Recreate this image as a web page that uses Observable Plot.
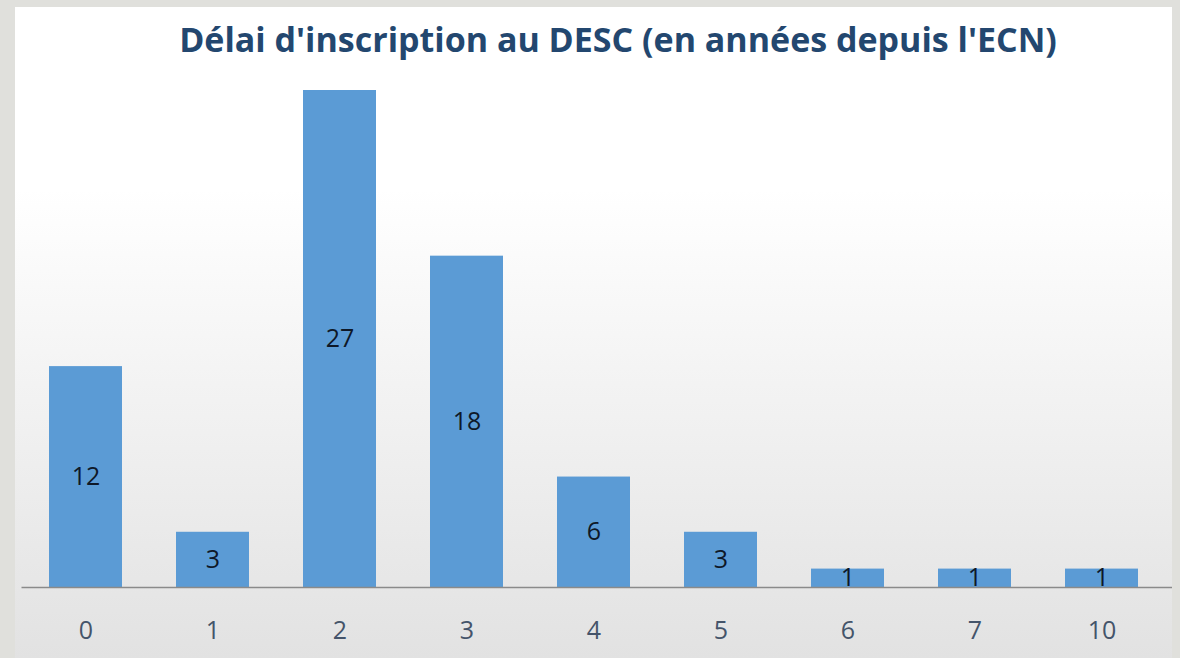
<!DOCTYPE html>
<html>
<head>
<meta charset="utf-8">
<script src="https://cdn.jsdelivr.net/npm/d3@7"></script>
<script src="https://cdn.jsdelivr.net/npm/@observablehq/plot@0.6"></script>
<style>
  html, body { margin: 0; padding: 0; }
  body { width: 1180px; height: 658px; background: #e0e0dc; position: relative; overflow: hidden; }
  #panel { position: absolute; left: 15px; top: 7px; width: 1157px; height: 651px;
    background: linear-gradient(to bottom, #ffffff 0%, #ffffff 28%, #e2e2e2 100%); }
  #title { position: absolute; left: 0; top: 0; width: 1157px; height: 70px; }
  #title span { position: absolute; left: 603px; top: 12px; transform: translateX(-50%) ;
    white-space: nowrap; font-family: "Open Sans", sans-serif; font-weight: 700; font-size: 34px;
    color: #23476f; line-height: 40px; }
  #chart { position: absolute; left: 0; top: 70px; }
</style>
</head>
<body>
<div id="panel">
  <div id="title"><span>Délai d'inscription au DESC (en années depuis l'ECN)</span></div>
  <div id="chart"></div>
</div>
<script>
const categories = ["0", "1", "2", "3", "4", "5", "6", "7", "10"];
const counts = [12, 3, 27, 18, 6, 3, 1, 1, 1];

const data = categories.map((c, i) => ({cat: c, n: counts[i]}));

const chart = Plot.plot({
  width: 1157,
  height: 581,
  marginLeft: 6.5,
  marginRight: 0,
  marginTop: 13,
  marginBottom: 71,
  style: {background: "transparent", fontFamily: "Open Sans, sans-serif", overflow: "visible"},
  x: {domain: categories, range: [6.5, 1151], paddingInner: 0.425, paddingOuter: 0.2125, label: null},
  y: {domain: [0, 27], axis: null},
  marks: [
    Plot.barY(data, {x: "cat", y: "n", fill: "#5b9bd5"}),
    Plot.ruleY([0], {stroke: "#8a8a8a", strokeWidth: 1.5}),
    Plot.text(data, {x: "cat", y: d => d.n / 2, text: d => String(d.n), fill: "#0e1828",
      fontSize: 25}),
    Plot.axisX({tickSize: 0, tickPadding: 34, fontSize: 25, fill: "#44546a", label: null})
  ]
});
document.getElementById("chart").appendChild(chart);
</script>
</body>
</html>
